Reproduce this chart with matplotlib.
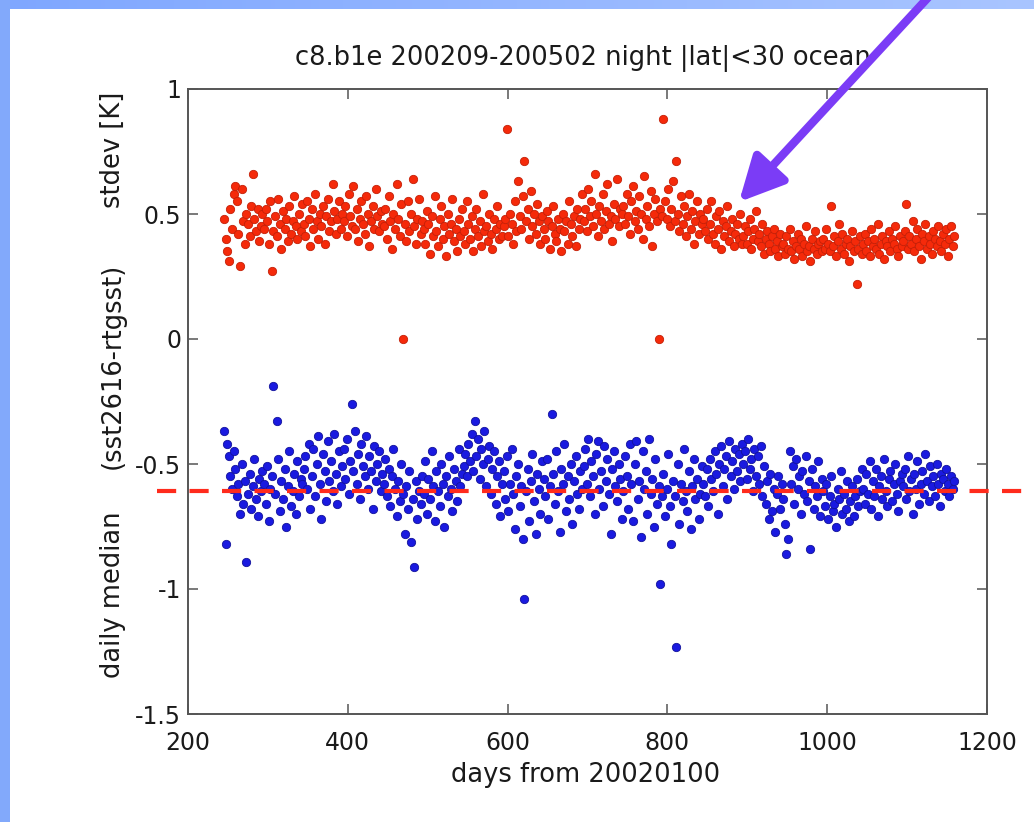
import numpy as np
import matplotlib
matplotlib.use("Agg")
import matplotlib.pyplot as plt
from matplotlib.patches import FancyArrowPatch, Rectangle
from matplotlib.transforms import blended_transform_factory

# ---------------- data ----------------
title = "c8.b1e 200209-200502 night |lat|<30 ocean"
xlabel = "days from 20020100"
ylabel_parts = ["daily median", "(sst2616-rtgsst)", "stdev [K]"]
xticks = [200, 400, 600, 800, 1000, 1200]
yticks = [-1.5, -1, -0.5, 0, 0.5, 1]
ytick_labels = ["-1.5", "-1", "-0.5", "0", "0.5", "1"]
first_day = 245
day_step = 2
ref_level = -0.61

# daily stdev [K] (red), every second day from day 245
stdev = [
    .48, .40, .35, .31, .52, .44, .58, .61, .55, .42, .29, .60, .47, .38, .50, .46, .41, .53, .66, .48, .43, .52, .39, .45, .50,
    .44, .52, .47, .38, .55, .27, .43, .49, .41, .56, .46, .36, .51, .44, .48, .39, .53, .42, .47, .57, .45, .40, .50, .43, .54,
    .46, .41, .55, .48, .37, .52, .44, .58, .47, .40, .50, .45, .53, .38, .49, .56, .43, .47, .62, .51, .42, .48, .55, .44, .50,
    .47, .53, .41, .58, .49, .45, .61, .44, .52, .39, .48, .55, .46, .42, .57, .50, .37, .47, .53, .44, .60, .49, .43, .51, .46,
    .45, .52, .40, .57, .47, .36, .50, .44, .62, .48, .41, .54, 0.0, .46, .39, .55, .43, .50, .64, .45, .38, .48, .56, .42, .47,
    .44, .38, .51, .46, .34, .49, .41, .57, .43, .37, .48, .53, .40, .45, .33, .50, .42, .46, .56, .39, .44, .35, .48, .41, .52,
    .43, .38, .55, .46, .40, .49, .35, .44, .52, .41, .47, .37, .58, .43, .45, .39, .50, .42, .36, .48, .44, .53, .40, .46, .41,
    .45, .48, .84, .41, .50, .46, .38, .55, .43, .63, .49, .44, .57, .71, .47, .52, .40, .59, .45, .50, .42, .54, .47, .38, .49,
    .44, .40, .51, .47, .36, .45, .53, .42, .39, .48, .44, .35, .50, .43, .47, .38, .55, .46, .41, .49, .37, .52, .44, .48, .58,
    .47, .52, .43, .60, .49, .55, .45, .66, .50, .41, .53, .47, .58, .44, .51, .62, .46, .49, .39, .54, .48, .64, .45, .52, .50,
    .53, .46, .58, .49, .42, .55, .61, .47, .51, .44, .57, .50, .40, .65, .48, .53, .45, .59, .37, .50, .56, .47, 0.0, .52, .49,
    .88, .55, .48, .60, .45, .52, .63, .47, .71, .50, .43, .57, .46, .53, .41, .49, .58, .44, .51, .38, .47, .55, .42, .50, .46,
    .48, .43, .52, .40, .46, .55, .42, .38, .49, .44, .51, .36, .47, .41, .45, .53, .39, .43, .48, .37, .42, .46, .40, .50, .38,
    .41, .45, .38, .43, .48, .36, .40, .44, .51, .39, .42, .37, .46, .34, .40, .43, .38, .35, .41, .44, .36, .39, .33, .42, .37,
    .38, .34, .41, .36, .44, .35, .39, .32, .37, .42, .36, .40, .33, .38, .45, .35, .37, .31, .40, .36, .43, .34, .38, .39, .35,
    .40, .36, .44, .38, .35, .53, .37, .41, .33, .39, .46, .36, .42, .34, .38, .40, .31, .37, .43, .35, .39, .22, .36, .41, .34,
    .38, .42, .35, .39, .33, .44, .37, .40, .36, .46, .34, .38, .41, .32, .39, .37, .43, .35, .40, .38, .45, .36, .33, .41, .37,
    .39, .43, .54, .36, .41, .38, .47, .35, .40, .44, .37, .32, .42, .39, .46, .36, .41, .38, .34, .43, .40, .37, .45, .39, .35,
    .42, .38, .44, .33, .40, .45, .37, .41,
]

# daily median (sst2616-rtgsst) [K] (blue), every second day from day 245
median = [
    -.37, -.82, -.42, -.47, -.55, -.60, -.45, -.52, -.63, -.58, -.70, -.50, -.66, -.57, -.89, -.62, -.54, -.68, -.59, -.48, -.64, -.71, -.56, -.61, -.53,
    -.58, -.66, -.51, -.73, -.60, -.55, -.19, -.62, -.33, -.48, -.69, -.57, -.64, -.52, -.75, -.59, -.45, -.67, -.61, -.54, -.70, -.49, -.63, -.56, -.58,
    -.52, -.47, -.60, -.42, -.68, -.55, -.44, -.63, -.50, -.39, -.58, -.72, -.46, -.53, -.65, -.41, -.57, -.49, -.61, -.38, -.54, -.66, -.45, -.59, -.51,
    -.44, -.56, -.40, -.62, -.49, -.26, -.53, -.37, -.58, -.46, -.64, -.42, -.51, -.55, -.39, -.60, -.47, -.53, -.68, -.43, -.57, -.50, -.45, -.61, -.54,
    -.58, -.48, -.63, -.52, -.67, -.55, -.44, -.60, -.71, -.57, -.65, -.50, -.62, -.78, -.59, -.68, -.53, -.81, -.64, -.91, -.57, -.72, -.61, -.66, -.55,
    -.62, -.49, -.70, -.56, -.64, -.45, -.59, -.73, -.53, -.61, -.67, -.50, -.58, -.75, -.55, -.63, -.47, -.60, -.69, -.52, -.57, -.65, -.44, -.59, -.54,
    -.51, -.46, -.55, -.42, -.49, -.38, -.53, -.33, -.47, -.40, -.56, -.44, -.50, -.37, -.59, -.48, -.43, -.62, -.52, -.45, -.66, -.55, -.49, -.71, -.58,
    -.53, -.64, -.47, -.69, -.58, -.44, -.62, -.76, -.55, -.50, -.67, -.59, -.80, -1.04, -.61, -.52, -.73, -.57, -.46, -.65, -.78, -.54, -.60, -.70, -.49,
    -.56, -.63, -.48, -.72, -.59, -.30, -.54, -.66, -.45, -.61, -.77, -.52, -.58, -.42, -.69, -.55, -.64, -.50, -.74, -.57, -.47, -.62, -.68, -.53, -.60,
    -.51, -.44, -.58, -.40, -.63, -.49, -.55, -.70, -.46, -.41, -.60, -.53, -.67, -.43, -.57, -.48, -.62, -.78, -.52, -.45, -.59, -.65, -.50, -.56, -.72,
    -.61, -.47, -.55, -.68, -.42, -.58, -.73, -.50, -.41, -.64, -.57, -.79, -.45, -.60, -.53, -.70, -.40, -.62, -.56, -.75, -.48, -.66, -.59, -.98, -.63,
    -.54, -.71, -.60, -.46, -.67, -.82, -.57, -.63, -1.23, -.50, -.74, -.58, -.65, -.44, -.61, -.69, -.53, -.76, -.59, -.48, -.64, -.56, -.72, -.62, -.51,
    -.58, -.63, -.52, -.67, -.48, -.56, -.61, -.45, -.54, -.70, -.50, -.43, -.59, -.52, -.47, -.64, -.41, -.55, -.49, -.60, -.44, -.53, -.46, -.57, -.42,
    -.50, -.45, -.56, -.40, -.52, -.48, -.61, -.44, -.55, -.47, -.58, -.43, -.63, -.51, -.66, -.57, -.72, -.54, -.69, -.60, -.77, -.62, -.55, -.68, -.58,
    -.64, -.74, -.86, -.80, -.45, -.58, -.51, -.66, -.48, -.60, -.55, -.70, -.53, -.62, -.47, -.65, -.57, -.84, -.52, -.68, -.59, -.63, -.49, -.71, -.56,
    -.61, -.67, -.58, -.72, -.63, -.55, -.69, -.66, -.75, -.60, -.64, -.53, -.70, -.62, -.68, -.57, -.73, -.65, -.59, -.71, -.63, -.56, -.67, -.61, -.52,
    -.60, -.66, -.54, -.62, -.49, -.68, -.57, -.63, -.52, -.71, -.59, -.55, -.64, -.48, -.61, -.67, -.56, -.53, -.65, -.58, -.50, -.62, -.69, -.57, -.54,
    -.59, -.52, -.64, -.47, -.61, -.56, -.70, -.54, -.60, -.49, -.66, -.58, -.53, -.62, -.46, -.57, -.65, -.51, -.59, -.55, -.63, -.50, -.58, -.67, -.54,
    -.56, -.61, -.52, -.58, -.63, -.55, -.60, -.57,
]

# ---------------- figure ----------------
W, H = 1034, 822
plt.rcParams['font.family'] = ['DejaVu Sans']
fig = plt.figure(figsize=(W / 100, H / 100), dpi=100)
fig.patch.set_facecolor('white')


def fx(px):
    return px / W


def fy(py):
    return 1 - py / H


# slide background strips (left and top)
grad_ax = fig.add_axes([0, fy(9), 1, fy(0) - fy(9)])
grad_ax.imshow(np.linspace(0, 1, 256)[None, :], aspect='auto',
               cmap=matplotlib.colors.LinearSegmentedColormap.from_list('bg', ['#7fa7ff', '#a9c5ff']))
grad_ax.set_axis_off()
fig.patches.append(Rectangle((0, 0), fx(10), 1, transform=fig.transFigure,
                             facecolor='#82a9fb', edgecolor='none', zorder=0))

ax = fig.add_axes([fx(188), fy(714), fx(987) - fx(188), fy(89) - fy(714)])
ax.set_facecolor('white')

days_s = first_day + day_step * np.arange(len(stdev))
days_m = first_day + day_step * np.arange(len(median))
ax.plot(days_s, stdev, 'o', ms=6, mfc='#f52a0a', mec='#c42008', mew=0.6, ls='none', zorder=3)
ax.plot(days_m, median, 'o', ms=6, mfc='#1a1ae0', mec='#12129c', mew=0.6, ls='none', zorder=3)

ax.set_xlim(200, 1200)
ax.set_ylim(-1.5, 1)
ax.set_xticks(xticks)
ax.set_xticklabels([str(t) for t in xticks])
ax.set_yticks(yticks)
ax.set_yticklabels(ytick_labels)
ax.tick_params(direction='in', length=7, width=1.1, colors='#555555',
               top=True, right=True, labelsize=17, labelcolor='#1a1a1a')
ax.tick_params(axis='x', pad=12)
ax.tick_params(axis='y', pad=5)
for s in ax.spines.values():
    s.set_color('#555555')
    s.set_linewidth(1.4)

# reference level dashed line extending past the axes
blend = blended_transform_factory(fig.transFigure, ax.transData)
ax.plot([fx(157), fx(1022)], [ref_level, ref_level], transform=blend, clip_on=False,
        color='#ff2b1c', lw=3, dashes=(4.6, 3.2), solid_capstyle='butt', zorder=5)

# texts
fig.text(fx(583), fy(58), title, ha='center', va='center', fontsize=18.5, color='#1a1a1a')
fig.text(fx(586), fy(775), xlabel, ha='center', va='center', fontsize=18.5, color='#1a1a1a')
ylab_y = [595, 366, 150]
for txt, yy in zip(ylabel_parts, ylab_y):
    fig.text(fx(113), fy(yy), txt, ha='center', va='center', rotation=90, fontsize=18.5, color='#1a1a1a')

# purple annotation arrow
arrow = FancyArrowPatch((fx(935), fy(-10)), (fx(739), fy(202)), transform=fig.transFigure,
                        arrowstyle='-|>,head_length=2.7,head_width=1.35', mutation_scale=10,
                        color='#7b3cf6', lw=6, shrinkA=0, shrinkB=0, zorder=10)
fig.patches.append(arrow)

fig.savefig('out.png', dpi=100, facecolor=fig.get_facecolor())
